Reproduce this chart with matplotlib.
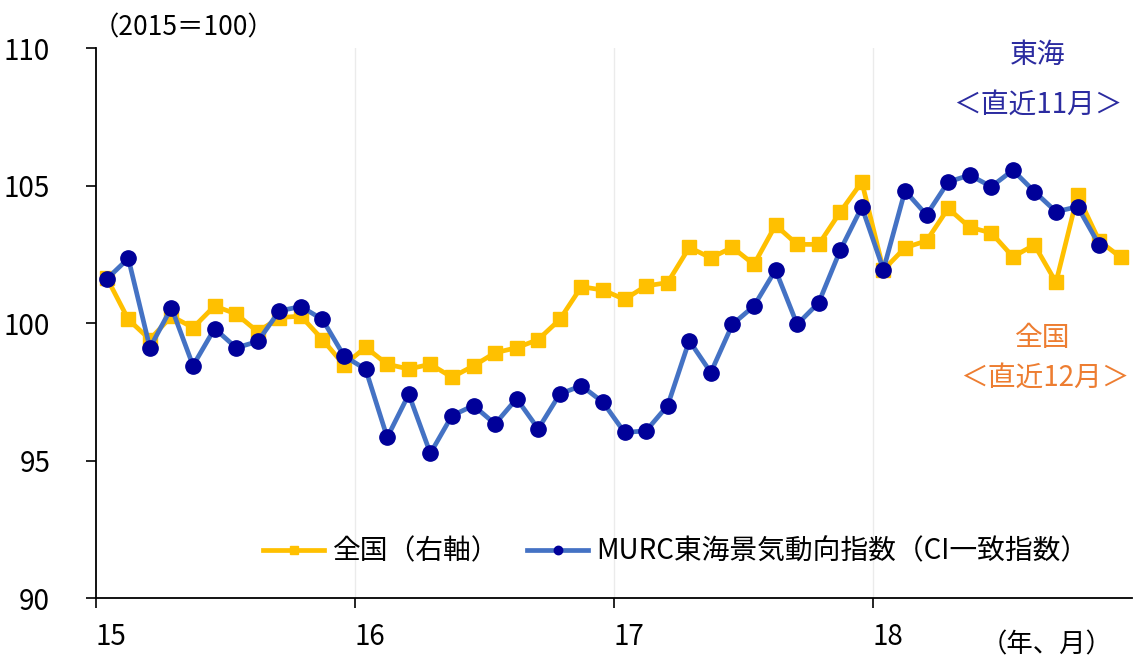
import matplotlib.pyplot as plt
import matplotlib
import numpy as np

matplotlib.rcParams['font.family'] = ['Noto Sans CJK JP', 'DejaVu Sans']
matplotlib.rcParams['xtick.direction'] = 'out'
matplotlib.rcParams['ytick.direction'] = 'out'

# monthly data, 2015/01 - 2018/12
zenkoku = [101.65, 100.13, 99.4, 100.25, 99.83, 100.62, 100.33, 99.68, 100.2, 100.25, 99.4, 98.47,
           99.12, 98.5, 98.33, 98.5, 98.03, 98.44, 98.92, 99.1, 99.4, 100.13, 101.32, 101.2,
           100.86, 101.35, 101.47, 102.75, 102.37, 102.75, 102.13, 103.56, 102.86, 102.86, 104.04, 105.13,
           101.93, 102.74, 102.99, 104.17, 103.48, 103.28, 102.41, 102.84, 101.48, 104.65, 102.99, 102.39]
tokai = [101.6, 102.35, 99.1, 100.56, 98.45, 99.8, 99.1, 99.33, 100.44, 100.6, 100.13, 98.8,
         98.32, 95.84, 97.41, 95.26, 96.63, 97.0, 96.33, 97.25, 96.15, 97.42, 97.72, 97.12,
         96.02, 96.08, 97.0, 99.36, 98.2, 99.95, 100.62, 101.93, 99.95, 100.74, 102.65, 104.22,
         101.94, 104.81, 103.93, 105.13, 105.38, 104.96, 105.56, 104.78, 104.05, 104.23, 102.84]
year_labels = ['15', '16', '17', '18']

x_z = np.arange(len(zenkoku)) + 0.5
x_t = np.arange(len(tokai)) + 0.5

fig = plt.figure(figsize=(11.33, 6.61), dpi=100)
ax = fig.add_axes([0.0847, 0.0953, 0.914, 0.832])

ax.plot(x_z, zenkoku, color='#FFC000', linewidth=3.4, marker='s', markersize=10.5,
        label='全国（右軸）')
ax.plot(x_t, tokai, color='#4472C4', linewidth=3.4, marker='o', markersize=11,
        markerfacecolor='#000099', markeredgecolor='#000099', label='MURC東海景気動向指数（CI一致指数）')

ax.set_xlim(0, 48)
ax.set_ylim(90, 110)
ax.set_xticks([0, 12, 24, 36])
ax.set_xticklabels(year_labels, fontsize=20)
ax.set_yticks([90, 95, 100, 105, 110])
ax.tick_params(axis='y', labelsize=20, length=7, width=1.2, pad=26)
ax.tick_params(axis='x', length=7, width=1.2, pad=10)
for lbl in ax.get_xticklabels():
    lbl.set_horizontalalignment('left')
for g in [12, 24, 36]:
    ax.axvline(g, color='#EBEBEB', linewidth=1, zorder=0)

ax.spines['top'].set_visible(False)
ax.spines['right'].set_visible(False)
ax.spines['left'].set_linewidth(1.3)
ax.spines['bottom'].set_linewidth(1.3)

fig.text(0.082, 0.958, '（2015＝100）', fontsize=19, ha='left', va='center')
fig.text(0.924, 0.024, '（年、月）', fontsize=19, ha='center', va='center')

ax.text(43.65, 109.75, '東海', color='#2B2BA0', fontsize=20, ha='center', va='center')
ax.text(43.65, 107.93, '＜直近11月＞', color='#2B2BA0', fontsize=20, ha='center', va='center')
ax.text(43.9, 99.45, '全国', color='#ED7D31', fontsize=20, ha='center', va='center')
ax.text(44.0, 98.0, '＜直近12月＞', color='#ED7D31', fontsize=20, ha='center', va='center')

ax.legend(loc='center', bbox_to_anchor=(0.56, 0.085), ncol=2, frameon=False, fontsize=20,
          markerscale=0.55, handlelength=2.2, handletextpad=0.3, columnspacing=1.0)

plt.savefig('out.png', dpi=100)
